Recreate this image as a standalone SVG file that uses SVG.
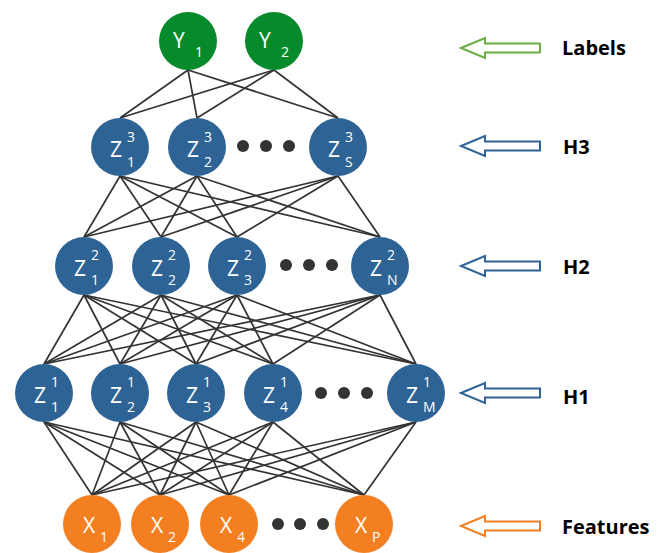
<svg xmlns="http://www.w3.org/2000/svg" width="670" height="553" viewBox="0 0 670 553">
  <style>
    .edge { stroke: #333333; stroke-width: 1.7; fill: none; }
    .out { fill: #078A2B; }
    .hid { fill: #2E6395; }
    .inp { fill: #F47F20; }
    .dot { fill: #333333; }
    .main { font-family: "Open Sans", "Noto Sans", sans-serif; font-size: 21px; fill: #ffffff; }
    .idx { font-family: "Open Sans", "Noto Sans", sans-serif; font-size: 14px; fill: #ffffff; }
    .lab { font-family: "Open Sans", "Liberation Sans", sans-serif; font-size: 20px; font-weight: bold; fill: #000000; }
    .arr { fill: #ffffff; stroke-width: 2; }
  </style>
  <defs>
    <path id="hollow-arrow" d="M0,0 L24,-10 L24,-4.5 L79,-4.5 L79,4.5 L24,4.5 L24,10 Z"/>
  </defs>

  <!-- connectors -->
  <g id="connectors">
    <!-- Y to Z3 -->
    <g>
      <line class="edge" x1="188" y1="70" x2="120" y2="118"/>
      <line class="edge" x1="188" y1="70" x2="197" y2="118"/>
      <line class="edge" x1="188" y1="70" x2="338" y2="118"/>
      <line class="edge" x1="274" y1="70" x2="120" y2="118"/>
      <line class="edge" x1="274" y1="70" x2="197" y2="118"/>
      <line class="edge" x1="274" y1="70" x2="338" y2="118"/>
    </g>
    <!-- Z3 to Z2 -->
    <g>
      <line class="edge" x1="120" y1="176" x2="84" y2="237"/>
      <line class="edge" x1="120" y1="176" x2="161" y2="237"/>
      <line class="edge" x1="120" y1="176" x2="237" y2="237"/>
      <line class="edge" x1="120" y1="176" x2="380" y2="237"/>
      <line class="edge" x1="197" y1="176" x2="84" y2="237"/>
      <line class="edge" x1="197" y1="176" x2="161" y2="237"/>
      <line class="edge" x1="197" y1="176" x2="237" y2="237"/>
      <line class="edge" x1="197" y1="176" x2="380" y2="237"/>
      <line class="edge" x1="338" y1="176" x2="84" y2="237"/>
      <line class="edge" x1="338" y1="176" x2="161" y2="237"/>
      <line class="edge" x1="338" y1="176" x2="237" y2="237"/>
      <line class="edge" x1="338" y1="176" x2="380" y2="237"/>
    </g>
    <!-- Z2 to Z1 -->
    <g>
      <line class="edge" x1="84" y1="295" x2="44" y2="364"/>
      <line class="edge" x1="84" y1="295" x2="120" y2="364"/>
      <line class="edge" x1="84" y1="295" x2="196" y2="364"/>
      <line class="edge" x1="84" y1="295" x2="273" y2="364"/>
      <line class="edge" x1="84" y1="295" x2="416" y2="364"/>
      <line class="edge" x1="161" y1="295" x2="44" y2="364"/>
      <line class="edge" x1="161" y1="295" x2="120" y2="364"/>
      <line class="edge" x1="161" y1="295" x2="196" y2="364"/>
      <line class="edge" x1="161" y1="295" x2="273" y2="364"/>
      <line class="edge" x1="161" y1="295" x2="416" y2="364"/>
      <line class="edge" x1="237" y1="295" x2="44" y2="364"/>
      <line class="edge" x1="237" y1="295" x2="120" y2="364"/>
      <line class="edge" x1="237" y1="295" x2="196" y2="364"/>
      <line class="edge" x1="237" y1="295" x2="273" y2="364"/>
      <line class="edge" x1="237" y1="295" x2="416" y2="364"/>
      <line class="edge" x1="380" y1="295" x2="44" y2="364"/>
      <line class="edge" x1="380" y1="295" x2="120" y2="364"/>
      <line class="edge" x1="380" y1="295" x2="196" y2="364"/>
      <line class="edge" x1="380" y1="295" x2="273" y2="364"/>
      <line class="edge" x1="380" y1="295" x2="416" y2="364"/>
    </g>
    <!-- Z1 to X -->
    <g>
      <line class="edge" x1="44" y1="422" x2="92" y2="495"/>
      <line class="edge" x1="44" y1="422" x2="160" y2="495"/>
      <line class="edge" x1="44" y1="422" x2="229" y2="495"/>
      <line class="edge" x1="44" y1="422" x2="364" y2="495"/>
      <line class="edge" x1="120" y1="422" x2="92" y2="495"/>
      <line class="edge" x1="120" y1="422" x2="160" y2="495"/>
      <line class="edge" x1="120" y1="422" x2="229" y2="495"/>
      <line class="edge" x1="120" y1="422" x2="364" y2="495"/>
      <line class="edge" x1="196" y1="422" x2="92" y2="495"/>
      <line class="edge" x1="196" y1="422" x2="160" y2="495"/>
      <line class="edge" x1="196" y1="422" x2="229" y2="495"/>
      <line class="edge" x1="196" y1="422" x2="364" y2="495"/>
      <line class="edge" x1="273" y1="422" x2="92" y2="495"/>
      <line class="edge" x1="273" y1="422" x2="160" y2="495"/>
      <line class="edge" x1="273" y1="422" x2="229" y2="495"/>
      <line class="edge" x1="273" y1="422" x2="364" y2="495"/>
      <line class="edge" x1="416" y1="422" x2="92" y2="495"/>
      <line class="edge" x1="416" y1="422" x2="160" y2="495"/>
      <line class="edge" x1="416" y1="422" x2="229" y2="495"/>
      <line class="edge" x1="416" y1="422" x2="364" y2="495"/>
    </g>
  </g>

  <!-- output layer -->
  <g id="y1"><circle class="out" cx="188" cy="41" r="29"/><text class="main" x="173" y="48">Y</text><text class="idx" x="195" y="57">1</text></g>
  <g id="y2"><circle class="out" cx="274" cy="41" r="29"/><text class="main" x="259" y="48">Y</text><text class="idx" x="281" y="57">2</text></g>

  <!-- hidden layer 3 -->
  <g id="z3-1"><circle class="hid" cx="120" cy="147" r="29"/><text class="main" x="110" y="157">Z</text><text class="idx" x="127" y="142">3</text><text class="idx" x="127" y="167">1</text></g>
  <g id="z3-2"><circle class="hid" cx="197" cy="147" r="29"/><text class="main" x="187" y="157">Z</text><text class="idx" x="204" y="142">3</text><text class="idx" x="204" y="167">2</text></g>
  <g id="z3-dots"><circle class="dot" cx="243" cy="146" r="6"/><circle class="dot" cx="266" cy="146" r="6"/><circle class="dot" cx="289" cy="146" r="6"/></g>
  <g id="z3-s"><circle class="hid" cx="338" cy="147" r="29"/><text class="main" x="328" y="157">Z</text><text class="idx" x="345" y="142">3</text><text class="idx" x="345" y="167">S</text></g>

  <!-- hidden layer 2 -->
  <g id="z2-1"><circle class="hid" cx="84" cy="266" r="29"/><text class="main" x="74" y="276">Z</text><text class="idx" x="91" y="260">2</text><text class="idx" x="91" y="285">1</text></g>
  <g id="z2-2"><circle class="hid" cx="161" cy="266" r="29"/><text class="main" x="151" y="276">Z</text><text class="idx" x="168" y="260">2</text><text class="idx" x="168" y="285">2</text></g>
  <g id="z2-3"><circle class="hid" cx="237" cy="266" r="29"/><text class="main" x="227" y="276">Z</text><text class="idx" x="244" y="260">2</text><text class="idx" x="244" y="285">3</text></g>
  <g id="z2-dots"><circle class="dot" cx="286" cy="265" r="6"/><circle class="dot" cx="309" cy="265" r="6"/><circle class="dot" cx="332" cy="265" r="6"/></g>
  <g id="z2-n"><circle class="hid" cx="380" cy="266" r="29"/><text class="main" x="370" y="276">Z</text><text class="idx" x="387" y="260">2</text><text class="idx" x="387" y="285">N</text></g>

  <!-- hidden layer 1 -->
  <g id="z1-1"><circle class="hid" cx="44" cy="393" r="29"/><text class="main" x="34" y="403">Z</text><text class="idx" x="51" y="387">1</text><text class="idx" x="51" y="412">1</text></g>
  <g id="z1-2"><circle class="hid" cx="120" cy="393" r="29"/><text class="main" x="110" y="403">Z</text><text class="idx" x="127" y="387">1</text><text class="idx" x="127" y="412">2</text></g>
  <g id="z1-3"><circle class="hid" cx="196" cy="393" r="29"/><text class="main" x="186" y="403">Z</text><text class="idx" x="203" y="387">1</text><text class="idx" x="203" y="412">3</text></g>
  <g id="z1-4"><circle class="hid" cx="273" cy="393" r="29"/><text class="main" x="263" y="403">Z</text><text class="idx" x="280" y="387">1</text><text class="idx" x="280" y="412">4</text></g>
  <g id="z1-dots"><circle class="dot" cx="321" cy="393" r="6"/><circle class="dot" cx="344" cy="393" r="6"/><circle class="dot" cx="367" cy="393" r="6"/></g>
  <g id="z1-m"><circle class="hid" cx="416" cy="393" r="29"/><text class="main" x="406" y="403">Z</text><text class="idx" x="423" y="387">1</text><text class="idx" x="423" y="412">M</text></g>

  <!-- input layer -->
  <g id="x1"><circle class="inp" cx="92" cy="524" r="29"/><text class="main" x="83" y="533">X</text><text class="idx" x="100" y="542">1</text></g>
  <g id="x2"><circle class="inp" cx="160" cy="524" r="29"/><text class="main" x="151" y="533">X</text><text class="idx" x="168" y="542">2</text></g>
  <g id="x4"><circle class="inp" cx="229" cy="524" r="29"/><text class="main" x="220" y="533">X</text><text class="idx" x="237" y="542">4</text></g>
  <g id="x-dots"><circle class="dot" cx="278" cy="524" r="6"/><circle class="dot" cx="300" cy="524" r="6"/><circle class="dot" cx="323" cy="524" r="6"/></g>
  <g id="xp"><circle class="inp" cx="364" cy="524" r="29"/><text class="main" x="355" y="533">X</text><text class="idx" x="372" y="542">P</text></g>

  <!-- layer legend -->
  <g id="legend-labels"><use href="#hollow-arrow" class="arr" stroke="#6AAD44" transform="translate(461,48)"/><text class="lab" x="562" y="55">Labels</text></g>
  <g id="legend-h3"><use href="#hollow-arrow" class="arr" stroke="#2E6395" transform="translate(461,146)"/><text class="lab" x="563" y="154">H3</text></g>
  <g id="legend-h2"><use href="#hollow-arrow" class="arr" stroke="#2E6395" transform="translate(461,266)"/><text class="lab" x="563" y="274">H2</text></g>
  <g id="legend-h1"><use href="#hollow-arrow" class="arr" stroke="#2E6395" transform="translate(461,393)"/><text class="lab" x="563" y="404">H1</text></g>
  <g id="legend-features"><use href="#hollow-arrow" class="arr" stroke="#F47F20" transform="translate(461,526)"/><text class="lab" x="562" y="534">Features</text></g>
</svg>
